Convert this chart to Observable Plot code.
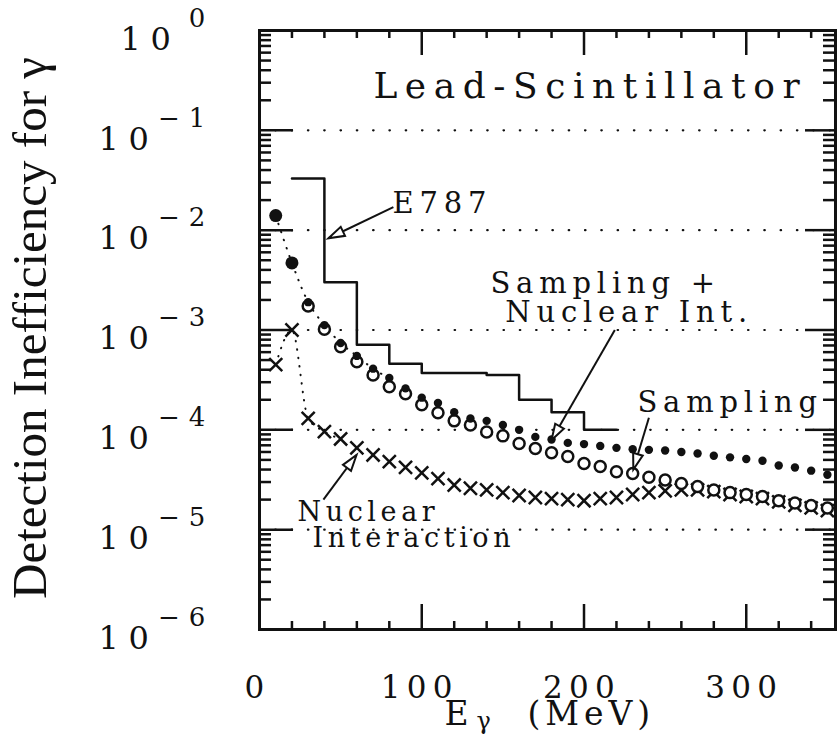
<!DOCTYPE html>
<html><head><meta charset="utf-8">
<script src="https://cdn.jsdelivr.net/npm/d3@7"></script>
<script src="https://cdn.jsdelivr.net/npm/@observablehq/plot@0.6"></script>
<style>
html,body{margin:0;padding:0;background:#fff;}
#chart g[font-size="36"] text{letter-spacing:0.21em;}
#chart g[font-size="27"] text{letter-spacing:0.17em;}
#chart g[font-size="29"] text{letter-spacing:0.2em;}
#chart g[font-size="31"] text{letter-spacing:0.2em;}
#chart g[font-size="32"] text{letter-spacing:0.3em;}
#chart g[font-size="26"] text{letter-spacing:0.35em;}
#chart g[font-size="33"] text{letter-spacing:0.15em;}
#chart g[font-size="49"] text{letter-spacing:0;}
</style></head><body><div id="chart"></div>
<script>
// ---- data ----
const energyMeV = [10,20,30,40,50,60,70,80,90,100,110,120,130,140,150,160,170,180,190,200,210,220,230,240,250,260,270,280,290,300,310,320,330,340,350];
// Sampling + Nuclear Int. (filled dots)
const samplingPlusNuclear = [1.4e-2,4.7e-3,1.9e-3,1.12e-3,7.4e-4,5.5e-4,4.1e-4,3.3e-4,2.6e-4,2.1e-4,1.86e-4,1.5e-4,1.3e-4,1.23e-4,1.12e-4,1.0e-4,8.5e-5,8.0e-5,7.4e-5,7.2e-5,6.9e-5,6.6e-5,6.4e-5,6.3e-5,6.2e-5,6.0e-5,5.8e-5,5.5e-5,5.3e-5,5.1e-5,4.9e-5,4.4e-5,4.2e-5,3.9e-5,3.55e-5];
// Sampling (open circles), from 30 MeV
const samplingEnergyMeV = [30,40,50,60,70,80,90,100,110,120,130,140,150,160,170,180,190,200,210,220,230,240,250,260,270,280,290,300,310,320,330,340,350];
const sampling = [1.74e-3,1.02e-3,6.8e-4,4.8e-4,3.55e-4,2.7e-4,2.3e-4,1.78e-4,1.48e-4,1.23e-4,1.12e-4,9.5e-5,8.7e-5,7.3e-5,6.5e-5,5.9e-5,5.4e-5,4.6e-5,4.3e-5,3.8e-5,3.65e-5,3.35e-5,3.15e-5,2.9e-5,2.7e-5,2.5e-5,2.35e-5,2.25e-5,2.15e-5,1.95e-5,1.85e-5,1.75e-5,1.65e-5];
// Nuclear interaction (crosses)
const nuclear = [4.5e-4,1.0e-3,1.3e-4,9.6e-5,8.1e-5,6.6e-5,5.6e-5,4.8e-5,4.2e-5,3.7e-5,3.25e-5,2.8e-5,2.6e-5,2.5e-5,2.35e-5,2.2e-5,2.1e-5,2.05e-5,2.0e-5,1.95e-5,2.05e-5,2.1e-5,2.25e-5,2.35e-5,2.45e-5,2.5e-5,2.5e-5,2.4e-5,2.25e-5,2.15e-5,2.05e-5,1.9e-5,1.75e-5,1.65e-5,1.55e-5];
// E787 histogram
const e787Edges = [20,40,60,80,100,140,160,180,200,220];
const e787Values = [3.3e-2,3.0e-3,7.1e-4,4.6e-4,3.7e-4,3.55e-4,2.0e-4,1.5e-4,1.0e-4];

// axes
const xTickLabels = [0,100,200,300];
const xMinorTicks = [20,40,60,80,120,140,160,180,220,240,260,280,320,340];
const yDecades = [1,1e-1,1e-2,1e-3,1e-4,1e-5,1e-6];
const yExponents = ["0","−1","−2","−3","−4","−5","−6"];
const gridDecades = [1e-1,1e-2,1e-3,1e-4,1e-5];

// annotations
const labelTexts = ["E787","Sampling +","Nuclear Int.","Sampling"];
const labelE = [82,142.3,151.5,232.9];
const labelV = [0.0186,2.9e-3,1.48e-3,1.86e-4];
const lowerLabelTexts = ["Nuclear","Interaction"];
const lowerLabelE = [23.4,32.7];
const lowerLabelV = [1.48e-5,8.1e-6];
const panelTitle = "Lead-Scintillator";
const arrowFromE = [82.5,219,240,39.4];
const arrowFromV = [0.017,1.0e-3,1.32e-4,2.0e-5];
const arrowToE = [42.5,180,230.4,59.8];
const arrowToV = [8.3e-3,7.9e-5,4.0e-5,5.6e-5];

// ---- tables ----
const snTable = energyMeV.map((e,i)=>({e, v: samplingPlusNuclear[i]}));
const sTable = samplingEnergyMeV.map((e,i)=>({e, v: sampling[i]}));
const nTable = energyMeV.map((e,i)=>({e, v: nuclear[i]}));
const e787Table = e787Edges.map((e,i)=>({e, v: e787Values[Math.min(i, e787Values.length-1)]}));
const yMinor = [];
for (const d of yDecades.slice(1)) for (let k=2;k<=9;k++) yMinor.push(d*k);
const yTicks = yDecades.map((v,i)=>({v, exp: yExponents[i]}));
const labels = labelTexts.map((t,i)=>({t, e: labelE[i], v: labelV[i]}));
const lowerLabels = lowerLabelTexts.map((t,i)=>({t, e: lowerLabelE[i], v: lowerLabelV[i]}));

const xDomain = [0,355], yDomain = [1e-6,1];
const W = 837, H = 734, mT = 30, mR = 2, mB = 105, mL = 259;
const fw = W - mL - mR, fh = H - mT - mB;
const xs = d3.scaleLinear(xDomain,[mL, W-mR]);
const ys = d3.scaleLog(yDomain,[H-mB, mT]);
const arrows = arrowFromE.map((e,i)=>{
  const dx = xs(arrowToE[i]) - xs(e), dy = ys(arrowToV[i]) - ys(arrowFromV[i]);
  return {x1: e, y1: arrowFromV[i], x2: arrowToE[i], y2: arrowToV[i], a: Math.atan2(dx, -dy)*180/Math.PI};
});
const arrowHead = {draw(ctx){ ctx.moveTo(0,0); ctx.lineTo(5,16); ctx.lineTo(-5,16); ctx.closePath(); }};

const ink = "#111";
const plot = Plot.plot({
  width: W, height: H,
  marginTop: mT, marginRight: mR, marginBottom: mB, marginLeft: mL,
  x: {domain: xDomain, axis: null},
  y: {type: "log", domain: yDomain, axis: null},
  style: {background: "#fff", color: ink, fontFamily: "DejaVu Serif", overflow: "visible"},
  marks: [
    Plot.ruleY(gridDecades, {stroke: ink, strokeWidth: 2.2, strokeDasharray: "0.5,15.8", strokeLinecap: "round"}),
    // ticks
    Plot.tickY(yMinor, {y: d=>d, insetRight: fw-12, stroke: ink, strokeWidth: 2.5}),
    Plot.tickY(yDecades, {y: d=>d, insetRight: fw-34, stroke: ink, strokeWidth: 2.5}),
    Plot.tickY(yMinor, {y: d=>d, insetLeft: fw-12, stroke: ink, strokeWidth: 2.5}),
    Plot.tickY(yDecades, {y: d=>d, insetLeft: fw-30, stroke: ink, strokeWidth: 2.5}),
    Plot.tickX(xMinorTicks, {x: d=>d, insetTop: fh-8, stroke: ink, strokeWidth: 2.5}),
    Plot.tickX(xTickLabels, {x: d=>d, insetTop: fh-25, stroke: ink, strokeWidth: 2.5}),
    Plot.tickX(xMinorTicks, {x: d=>d, insetBottom: fh-8, stroke: ink, strokeWidth: 2.5}),
    Plot.tickX(xTickLabels, {x: d=>d, insetBottom: fh-25, stroke: ink, strokeWidth: 2.5}),
    Plot.frame({stroke: ink, strokeWidth: 3}),
    // E787 histogram
    Plot.line(e787Table, {x: "e", y: "v", curve: "step-after", stroke: ink, strokeWidth: 2.5}),
    // dotted connecting curves (visible at low energy)
    Plot.line(snTable.filter(d=>d.e<=80), {x: "e", y: "v", curve: "monotone-x", stroke: ink, strokeWidth: 2, strokeDasharray: "0.5,8", strokeLinecap: "round"}),
    Plot.line(nTable.filter(d=>d.e<=50), {x: "e", y: "v", curve: "monotone-x", stroke: ink, strokeWidth: 2, strokeDasharray: "0.5,8", strokeLinecap: "round"}),
    // markers
    Plot.dot(nTable, {x: "e", y: "v", symbol: "times", r: 6, stroke: ink, strokeWidth: 2.5}),
    Plot.dot(sTable, {x: "e", y: "v", r: 5.5, stroke: ink, fill: "#fff", strokeWidth: 2.5}),
    Plot.dot(snTable.filter(d=>d.e<=20), {x: "e", y: "v", r: 6.5, fill: ink}),
    Plot.dot(snTable.filter(d=>d.e>20), {x: "e", y: "v", r: 4.2, fill: ink}),
    // arrows
    Plot.link(arrows, {x1: "x1", y1: "y1", x2: "x2", y2: "y2", stroke: ink, strokeWidth: 2}),
    Plot.dot(arrows, {x: "x2", y: "y2", symbol: arrowHead, rotate: "a", stroke: ink, fill: "#fff", strokeWidth: 2}),
    // annotation texts
    Plot.text([panelTitle], {x: [70.2], y: [0.275], text: d=>d, textAnchor: "start", fontSize: 36, fill: ink}),
    Plot.text(labels, {x: "e", y: "v", text: "t", textAnchor: "start", fontSize: 29, fill: ink}),
    Plot.text(lowerLabels, {x: "e", y: "v", text: "t", textAnchor: "start", fontSize: 27, fill: ink}),
    // x tick labels
    Plot.text(xTickLabels, {x: d=>d, text: d=>String(d), frameAnchor: "bottom", dy: 68, dx: -2, fontSize: 31, fill: ink}),
    // y tick labels 10^k
    Plot.text(yTicks.filter(d=>d.v!==1), {y: "v", text: ()=>"10", frameAnchor: "left", textAnchor: "end", dx: -101, dy: 9, fontSize: 32, fill: ink}),
    Plot.text(yTicks.filter(d=>d.v===1), {y: "v", text: ()=>"10", frameAnchor: "left", textAnchor: "end", dx: -79, dy: 9, fontSize: 32, fill: ink}),
    Plot.text(yTicks, {y: "v", text: "exp", frameAnchor: "left", textAnchor: "end", dx: -45, dy: -12, fontSize: 26, fill: ink}),
    // axis titles
    Plot.text(["E"], {frameAnchor: "bottom", text: d=>d, textAnchor: "end", dx: -74, dy: 95, fontSize: 33, fill: ink}),
    Plot.text(["γ"], {frameAnchor: "bottom", text: d=>d, textAnchor: "start", dx: -71, dy: 99, fontSize: 24, fill: ink}),
    Plot.text(["(MeV)"], {frameAnchor: "bottom", text: d=>d, textAnchor: "start", dx: -20, dy: 95, fontSize: 33, fill: ink}),
    Plot.text(["Detection Inefficiency for γ"], {frameAnchor: "left", text: d=>d, textAnchor: "middle", rotate: -90, dx: -229, dy: -2, fontFamily: "Liberation Serif", fontSize: 49, fill: ink})
  ]
});
document.getElementById("chart").append(plot);
</script></body></html>
